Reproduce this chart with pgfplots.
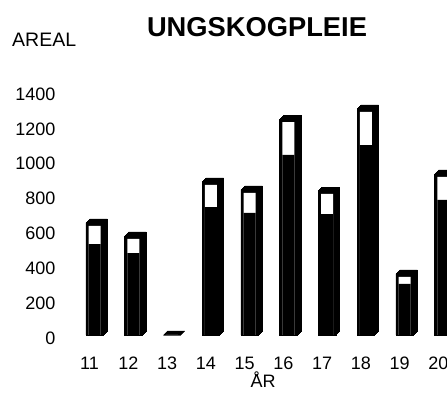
\documentclass[border=0pt]{standalone}
\usepackage{pgfplots}
\usepackage{pgfplotstable}
\usepackage{fontspec}
\setmainfont{Liberation Sans}
\pgfplotsset{compat=1.18}
\pgfplotstableread{
x  total lower
11 643 522
12 568 470
13 0 0
14 878 734
15 832 700
16 1239 1033
17 826 694
18 1297 1090
19 350 293
20 924 775
}\data
\begin{document}
\begin{tikzpicture}
\begin{axis}[
  at={(55.8pt,66pt)}, anchor=south west,
  x=38.75pt, y=0.1743pt,
  xmin=10, xmax=20.5, ymin=0, ymax=1450,
  clip=false,
  axis line style={draw=none},
  major tick length=0pt,
  xtick={11,...,20}, ytick={0,200,...,1400},
  tick label style={font=\fontsize{18}{20}\selectfont},
  xticklabel style={xshift=-5pt, yshift=-18.5pt},
  yticklabel style={xshift=3.2pt, yshift=-3pt},
  /pgf/number format/assume math mode=true,
  /pgf/number format/1000 sep={},
  scaled ticks=false,
]
\pgfplotsinvokeforeach{0.5,1,1.5,2,2.5,3,3.5,4}{
  \addplot[ybar, bar width=17.5pt, fill=black, draw=black, line width=0.8pt, xshift=#1pt, yshift=#1pt] table[x=x,y=total]{\data};
}
\addplot[ybar, bar width=17.5pt, fill=black, draw=black, line width=0.6pt] table[x=x,y=total]{\data};
\addplot[ybar, bar width=12pt, fill=white, draw=none] table[x=x, y expr={max(\thisrow{total}-17,0)}]{\data};
\addplot[ybar, bar width=12pt, fill=black, draw=none] table[x=x,y=lower]{\data};
\end{axis}
\node[inner sep=0] at (257pt,374.3pt) {\fontsize{27.3}{29}\selectfont\bfseries UNGSKOGPLEIE};
\node[inner sep=0, anchor=west] at (12pt,361.5pt) {\fontsize{19.5}{21}\selectfont AREAL};
\node[inner sep=0] at (263pt,21pt) {\fontsize{18}{20}\selectfont ÅR};
\pgfresetboundingbox
\path[use as bounding box] (0,0) rectangle (447pt,401pt);
\end{tikzpicture}
\end{document}
